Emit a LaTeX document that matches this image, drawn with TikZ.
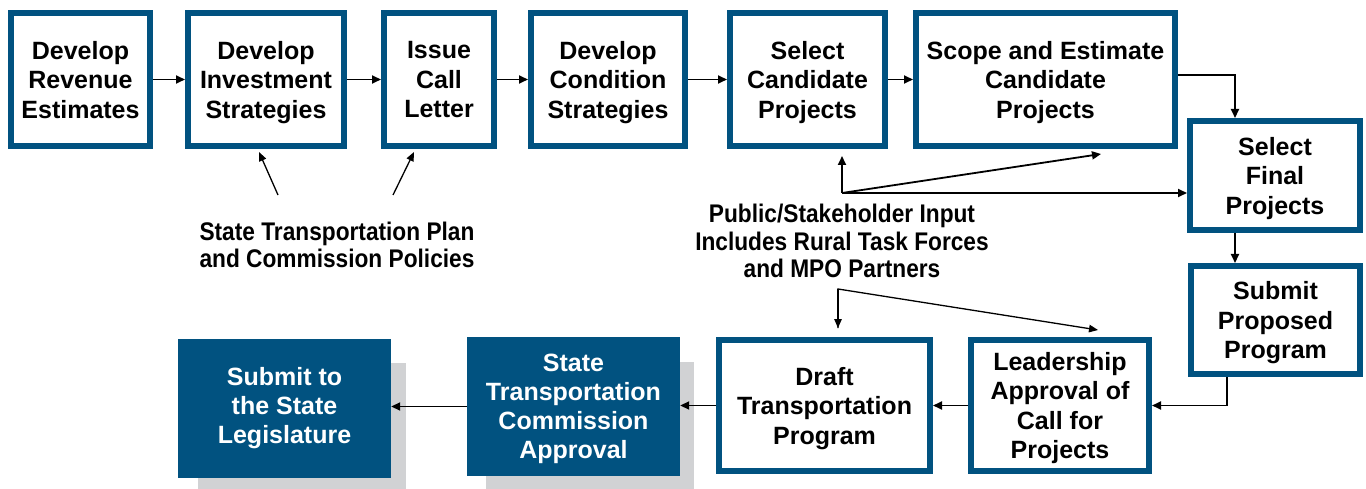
\documentclass[tikz,border=0pt]{standalone}
\usepackage{fontspec}
\setmainfont{Liberation Sans}
\newfontfamily\narrowfont{Liberation Sans}[FakeStretch=0.89]
\usetikzlibrary{arrows.meta}
\definecolor{boxblue}{RGB}{1,82,128}
\definecolor{shadowgray}{RGB}{209,210,212}
\tikzset{
  stepbox/.style={draw=boxblue, line width=6pt, fill=white, align=center, inner sep=0pt,
    text depth=0pt, font=\bfseries\fontsize{25}{29.5}\selectfont},
  fillbox/.style={fill=boxblue, text=white, align=center, inner sep=0pt,
    font=\bfseries\fontsize{25}{29}\selectfont},
  arr/.style={-{Triangle[length=9pt,width=8pt]}, line width=1.8pt},
  thinarr/.style={-{Triangle[length=9pt,width=7.5pt]}, line width=1.3pt},
  note/.style={align=center, inner sep=0pt, font=\narrowfont\bfseries\fontsize{25.5}{27.5}\selectfont}
}
\begin{document}
\begin{tikzpicture}[x=1pt,y=-1pt]
\useasboundingbox (0,0) rectangle (1366,489);
% top row
\node[stepbox, minimum width=139pt, minimum height=133pt] (b1) at (80.5,79.5) {Develop\\Revenue\\Estimates};
\node[stepbox, minimum width=156pt, minimum height=133pt] (b2) at (266,79.5) {Develop\\Investment\\Strategies};
\node[stepbox, minimum width=110pt, minimum height=133pt] (b3) at (439,79.5) {Issue\\Call\\Letter};
\node[stepbox, minimum width=154pt, minimum height=133pt] (b4) at (608,79.5) {Develop\\Condition\\Strategies};
\node[stepbox, minimum width=155pt, minimum height=133pt] (b5) at (807.5,79.5) {Select\\Candidate\\Projects};
\node[stepbox, minimum width=259pt, minimum height=133pt] (b6) at (1045.5,79.5) {Scope and Estimate\\Candidate\\Projects};
% right column
\node[stepbox, minimum width=170pt, minimum height=109pt] (b7) at (1275,175.5) {Select\\Final\\Projects};
\node[stepbox, minimum width=169pt, minimum height=108pt] (b8) at (1275.5,320) {Submit\\Proposed\\Program};
% bottom row
\node[stepbox, minimum width=178pt, minimum height=131pt] (b9) at (1060,405.5) {Leadership\\Approval of\\Call for\\Projects};
\node[stepbox, minimum width=211pt, minimum height=131pt] (b10) at (824.5,405.5) {Draft\\Transportation\\Program};
\fill[shadowgray] (486,362) rectangle (694,489);
\node[fillbox, text depth=0pt, minimum width=213pt, minimum height=139pt] (b11) at (573.5,406.5) {State\\Transportation\\Commission\\Approval};
\fill[shadowgray] (198,363) rectangle (406,489);
\node[fillbox, minimum width=213pt, minimum height=139pt] (b12) at (284.5,408.5) {Submit to\\the State\\Legislature};
% notes
\node[note] (pol) at (337,245) {State Transportation Plan\\and Commission Policies};
\node[note] (pub) at (842,241) {Public/Stakeholder Input\\Includes Rural Task Forces\\and MPO Partners};
% main flow
\draw[arr] (b1.east) -- (b2.west);
\draw[arr] (b2.east) -- (b3.west);
\draw[arr] (b3.east) -- (b4.west);
\draw[arr] (b4.east) -- (b5.west);
\draw[arr] (b5.east) -- (b6.west);
\draw[arr] ([yshift=4.5pt]b6.east) -| ([xshift=-40pt]b7.north);
\draw[arr] ([xshift=-40pt]b7.south) -- ([xshift=-40pt]b7.south |- b8.north);
\draw[arr] ([xshift=-48.5pt]b8.south) |- (b9.east);
\draw[arr] (b9.west) -- (b9.west -| b10.east);
\draw[arr] (b10.west) -- (b10.west -| b11.east);
\draw[arr] (b11.west) -- (b11.west -| b12.east);
% policy arrows
\coordinate (pa1) at (278,195);
\coordinate (pt1) at (259,152);
\coordinate (pa2) at (393,195);
\coordinate (pt2) at (414,152);
\draw[thinarr] (pa1) -- (pt1);
\draw[thinarr] (pa2) -- (pt2);
% public input arrows
\coordinate (pin) at (842,193);
\coordinate (pin1) at (842,156);
\coordinate (pin2) at (1101,154);
\draw[arr] (pin) -- (pin1);
\draw[arr] (pin) -- (pin2);
\draw[arr] (pin) -- (pin -| b7.west);
\coordinate (mpo) at (838,289);
\coordinate (mpo1) at (838,328);
\coordinate (mpo2) at (1098,330);
\draw[thinarr] (mpo1) -- (mpo) -- (mpo2);
\draw[thinarr] (mpo) -- (mpo1);
\end{tikzpicture}
\end{document}
